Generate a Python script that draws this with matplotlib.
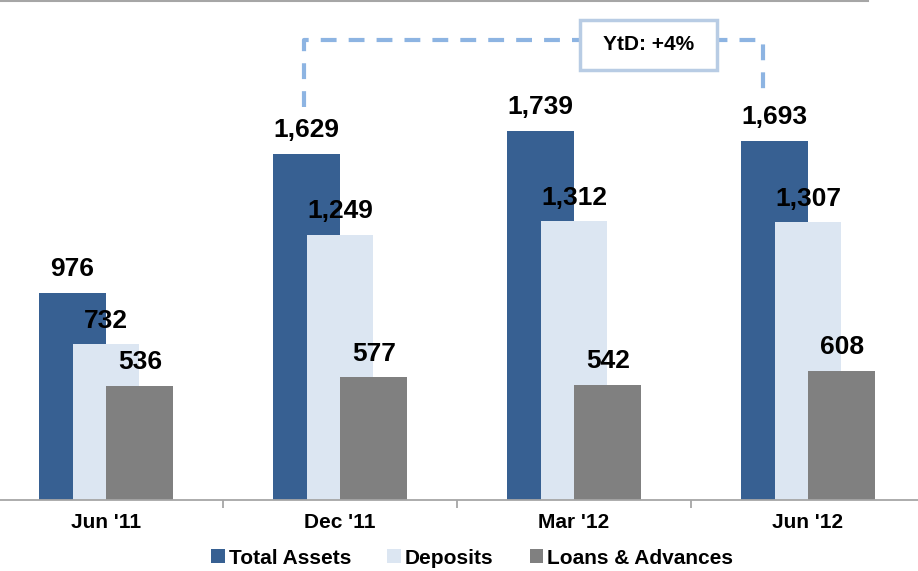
import matplotlib
matplotlib.use("Agg")
import numpy as np
import matplotlib.pyplot as plt
from matplotlib.patches import Rectangle
from matplotlib.lines import Line2D

plt.rcParams['font.family'] = ['Liberation Sans', 'DejaVu Sans']
plt.rcParams['font.weight'] = 'bold'

# data
periods = ["Jun '11", "Dec '11", "Mar '12", "Jun '12"]
total_assets = [976, 1629, 1739, 1693]
deposits = [732, 1249, 1312, 1307]
loans = [536, 577, 542, 608]
series_names = ['Total Assets', 'Deposits', 'Loans & Advances']
ytd_text = 'YtD: +4%'

colors = ['#376092', '#dce6f2', '#808080']
W, H = 918, 571

fig = plt.figure(figsize=(W / 100, H / 100), dpi=100)
ax = fig.add_axes([0, 71.5 / H, 1, 499.5 / H])

x = np.arange(len(periods))
bw = 0.286
offs = [-0.145, 0.0, 0.145]
all_series = [total_assets, deposits, loans]
handles = []
for vals, off, col, name in zip(all_series, offs, colors, series_names):
    b = ax.bar(x + off, vals, width=bw, color=col, label=name, zorder=2)
    handles.append(b)

# value labels on top of everything
for vals, off in zip(all_series, offs):
    for xi, v in zip(x, vals):
        ax.annotate(f"{v:,}", (xi + off, v), xytext=(0, 12), textcoords='offset points',
                    ha='center', va='baseline', fontsize=19, fontweight='bold', zorder=5)

ax.set_xlim(-106 / 234, (W - 106) / 234)
ax.set_ylim(0, 499.5 / 0.212)

for s in ['top', 'left', 'right']:
    ax.spines[s].set_visible(False)
ax.spines['bottom'].set_color('#a6a6a6')
ax.spines['bottom'].set_linewidth(1.3)
ax.set_yticks([])
ax.set_xticks(x)
ax.set_xticklabels(periods, fontsize=15, fontweight='bold')
ax.tick_params(axis='x', which='major', length=0, pad=10)
ax.set_xticks(x[:-1] + 0.5, minor=True)
ax.tick_params(axis='x', which='minor', length=5.5, width=1.3, color='#a6a6a6')

# YtD bracket (dashed)
dash_col = '#8db4e2'
ysc = 0.212
def py(p):
    return (499.5 - p) / ysc
def px(p):
    return (p - 106) / 234
ax.plot([px(304), px(304), px(763), px(763)], [py(107), py(40), py(40), py(95)],
        color=dash_col, lw=3, dashes=(3.8, 2.9), solid_capstyle='butt',
        dash_capstyle='butt', zorder=3, clip_on=False)
ax.add_patch(Rectangle((px(580), py(70)), px(717) - px(580), py(20) - py(70),
                       facecolor='white', edgecolor='#b8cce4', lw=2.5, zorder=4, clip_on=False))
ax.text((px(580) + px(717)) / 2, py(45), ytd_text, ha='center', va='center',
        fontsize=15, fontweight='bold', zorder=5)

# thin top rule
fig.add_artist(Line2D([0, 868 / W], [0.998, 0.998], color='#a6a6a6', lw=1.5,
                      transform=fig.transFigure))

fig.legend(handles=handles, labels=series_names, loc='center', ncol=3,
           bbox_to_anchor=(472 / W, 13 / H), frameon=False, fontsize=15,
           handlelength=0.67, handleheight=0.67, handletextpad=0.15,
           columnspacing=1.75, borderaxespad=0, borderpad=0)

fig.savefig('out.png', dpi=100)
